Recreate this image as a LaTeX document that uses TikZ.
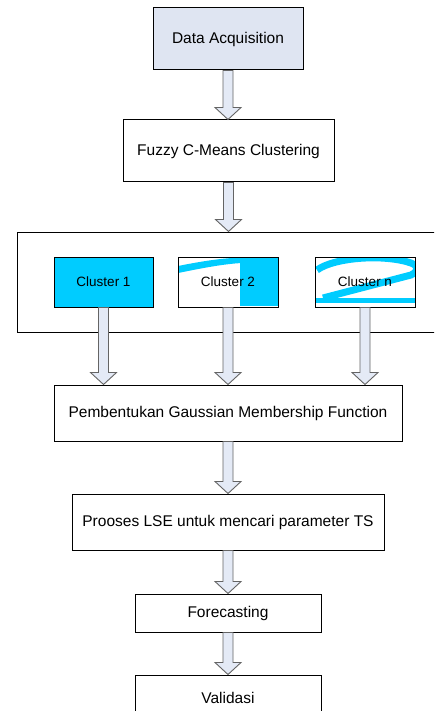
\documentclass[tikz,border=0pt]{standalone}
\usepackage{fontspec}
\setmainfont{Liberation Sans}
\usetikzlibrary{calc}
\definecolor{boxblue}{RGB}{223,229,242}
\definecolor{arrfill}{RGB}{228,234,246}
\definecolor{arrline}{RGB}{100,100,100}
\definecolor{cyanx}{RGB}{0,204,255}
\tikzset{
  box/.style={draw=black, line width=1pt, fill=white, inner sep=0pt, font=\fontsize{15.5}{18}\selectfont},
  cbox/.style={box, font=\fontsize{13.5}{16}\selectfont, minimum width=100pt, minimum height=50pt},
  clearbox/.style={cbox, fill=none},
  fatarr/.style={draw=arrline, fill=arrfill, line width=0.9pt, line join=miter},
  blob/.style={fill=cyanx},
}
\newcommand\fatarrow[2]{%
  \path[fatarr] ($(#1)+(-5,0)$) -- ($(#2)+(-5,-12)$) -- ($(#2)+(-13,-12)$) -- (#2)
     -- ($(#2)+(13,-12)$) -- ($(#2)+(5,-12)$) -- ($(#1)+(5,0)$) -- cycle;}
\begin{document}
\begin{tikzpicture}[x=1pt,y=-1pt]
\clip (0,0) rectangle (434,711);
\fill[white] (0,0) rectangle (434,711);
% nodes
\node[box, fill=boxblue, minimum width=150pt, minimum height=62pt] (data) at (228,39) {Data Acquisition};
\node[box, minimum width=211pt, minimum height=62pt] (fcm) at (228.5,151) {Fuzzy C-Means Clustering};
\node[box, minimum width=428pt, minimum height=100pt] (group) at (231,282) {};
% cyan patches inside Cluster 2 and Cluster n
\path[blob] (240,258) rectangle (278,306);
\path[blob] (178,266) .. controls (203,261) and (223,258) .. (242,257.5)
   -- (242,263) .. controls (223,264) and (203,268) .. (178,273) -- cycle;
\begin{scope}
  \clip (315,257) rectangle (415,307);
  \draw[cyanx, line width=7pt] (317,270) .. controls (335,257) and (385,254) .. (411,263)
     .. controls (419,266) and (419,271) .. (411,275) -- (323,298);
  \path[blob] (314,298) rectangle (416,303);
\end{scope}
\node[cbox, fill=cyanx, minimum width=99pt] (c1) at (103.5,282) {Cluster 1};
\node[clearbox] (c2) at (228,282) {Cluster 2};
\node[clearbox] (cn) at (365,282) {Cluster n};
\node[box, minimum width=348pt, minimum height=56pt] (gauss) at (228,413) {Pembentukan Gaussian Membership Function};
\node[box, minimum width=312pt, minimum height=56pt] (lse) at (228,522) {Prooses LSE untuk mencari parameter TS};
\node[box, minimum width=186pt, minimum height=38pt] (fore) at (228,613) {Forecasting};
\node[box, minimum width=186pt, minimum height=46pt] (valid) at (228,698) {Validasi};
% arrows
\fatarrow{data.south}{data.south |- fcm.north}
\fatarrow{fcm.south}{fcm.south |- group.north}
\fatarrow{c1.south}{c1.south |- gauss.north}
\fatarrow{c2.south}{c2.south |- gauss.north}
\fatarrow{cn.south}{cn.south |- gauss.north}
\fatarrow{gauss.south}{gauss.south |- lse.north}
\fatarrow{lse.south}{lse.south |- fore.north}
\fatarrow{fore.south}{fore.south |- valid.north}
\end{tikzpicture}
\end{document}
